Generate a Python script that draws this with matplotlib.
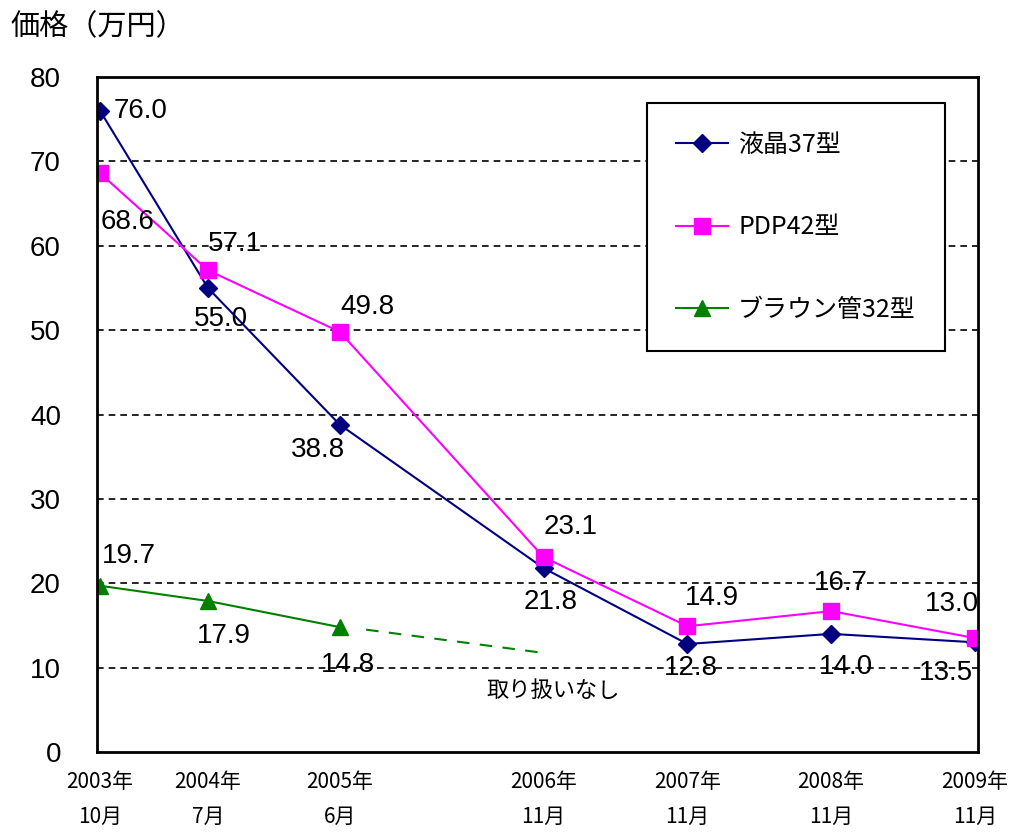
import matplotlib
matplotlib.use("Agg")
import matplotlib.pyplot as plt

plt.rcParams['font.family'] = ['Noto Sans CJK JP', 'DejaVu Sans']

# months since 2003/10 for each survey date
months = [0, 9, 20, 37, 49, 61, 73]
tick_labels = ["2003年\n10月", "2004年\n7月", "2005年\n6月", "2006年\n11月",
               "2007年\n11月", "2008年\n11月", "2009年\n11月"]

lcd = [76.0, 55.0, 38.8, 21.8, 12.8, 14.0, 13.0]
pdp = [68.6, 57.1, 49.8, 23.1, 14.9, 16.7, 13.5]
braun = [19.7, 17.9, 14.8]

lcd_labels = ["76.0", "55.0", "38.8", "21.8", "12.8", "14.0", "13.5"]
pdp_labels = ["68.6", "57.1", "49.8", "23.1", "14.9", "16.7", "13.0"]
braun_labels = ["19.7", "17.9", "14.8"]

# "no longer sold" dashed hint after the last braun tube point
gap_x = [22.2, 36.7]
gap_y = [14.5, 11.8]
gap_text = "取り扱いなし"

# label offsets in pixels
lcd_off = [(41, 0), (13, -31), (-22, -25), (7, -34), (4, -24), (15, -33), (-29, -31)]
pdp_off = [(28, -49), (27, 26), (28, 25), (27, 30), (25, 28), (10, 28), (-23, 34)]
braun_off = [(29, 30), (16, -35), (8, -38)]

fig = plt.figure(figsize=(10.27, 8.39), dpi=100)
ax = fig.add_axes([0.0945, 0.1037, 0.8578, 0.8045])

ax.plot(months, lcd, color="#000080", marker="D", markersize=9, linewidth=1.5, label="液晶37型")
ax.plot(months, pdp, color="#FF00FF", marker="s", markersize=12, linewidth=1.5, label="PDP42型")
ax.plot(months[:len(braun)], braun, color="#008000", marker="^", markersize=12, linewidth=1.5, label="ブラウン管32型")
ax.plot(gap_x, gap_y, color="#008000", linestyle=(0, (6, 5)), linewidth=1.5)
ax.text(37.8, 7.3, gap_text, fontsize=16, ha="center", va="center")

num_font = ["Liberation Sans", "DejaVu Sans"]

def put_labels(xs, ys, labels, offs):
  for x, y, s, o in zip(xs, ys, labels, offs):
    ax.annotate(s, (x, y), xytext=o, textcoords="offset pixels",
                ha="center", va="center", fontsize=20, family=num_font)

put_labels(months, lcd, lcd_labels, lcd_off)
put_labels(months, pdp, pdp_labels, pdp_off)
put_labels(months, braun, braun_labels, braun_off)

ax.set_xlim(-0.25, 73.25)
ax.set_ylim(0, 80)
ax.set_yticks(range(0, 81, 10))
ax.set_xticks(months)
ax.set_xticklabels(tick_labels, fontsize=15, linespacing=1.75)
ax.tick_params(axis="y", length=0, pad=26, labelsize=20)
ax.tick_params(axis="x", length=0, pad=14)
for lbl in ax.get_yticklabels():
  lbl.set_family(num_font)

for y in range(10, 80, 10):
  ax.axhline(y, color="black", linestyle=(0, (4, 3)), linewidth=1.2, zorder=0)
for sp in ax.spines.values():
  sp.set_linewidth(2)

leg = ax.legend(loc="upper left", bbox_to_anchor=(0.624, 0.961), fontsize=18,
                labelspacing=2.25, borderpad=1.15, handlelength=2.1, handletextpad=0.4,
                borderaxespad=0, fancybox=False, edgecolor="black", framealpha=1)
leg.get_frame().set_linewidth(1.5)

fig.text(0.01, 0.967, "価格（万円）", fontsize=21, va="center")

fig.savefig("out.png", dpi=100)
